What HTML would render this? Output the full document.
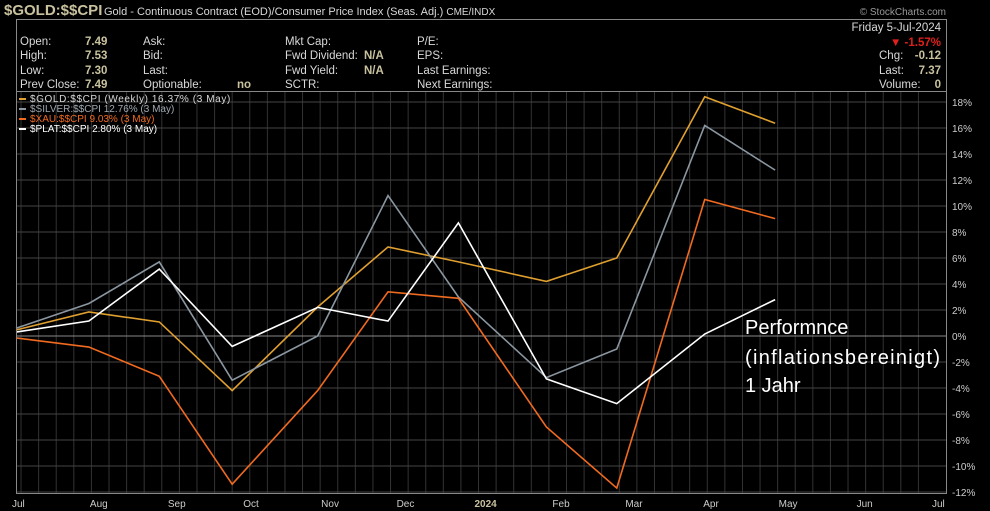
<!DOCTYPE html>
<html><head><meta charset="utf-8"><style>
html,body{margin:0;padding:0;background:#000;width:990px;height:511px;overflow:hidden}
svg{display:block;font-family:"Liberation Sans",sans-serif}
</style></head><body>
<svg id="c" width="990" height="511">
<text x="4" y="15" font-size="15" font-weight="bold" fill="#c9c29e">$GOLD:$$CPI</text>
<text x="104" y="15" font-size="11" fill="#d8d8d8">Gold - Continuous Contract (EOD)/Consumer Price Index (Seas. Adj.) <tspan font-size="10">CME/INDX</tspan></text>
<text x="946" y="15" font-size="10" fill="#999" text-anchor="end">© StockCharts.com</text>
<rect x="16.5" y="19.5" width="930" height="72" fill="none" stroke="#888"/>
<g font-size="11.5" fill="#d8d8d8">
<text x="20" y="45">Open:</text><text x="20" y="59">High:</text><text x="20" y="74">Low:</text><text x="20" y="88">Prev Close:</text>
<g font-weight="bold" fill="#c9c29e"><text x="85" y="45">7.49</text><text x="85" y="59">7.53</text><text x="85" y="74">7.30</text><text x="85" y="88">7.49</text></g>
<text x="143" y="45">Ask:</text><text x="143" y="59">Bid:</text><text x="143" y="74">Last:</text><text x="143" y="88">Optionable:</text>
<text x="237" y="88" font-weight="bold" fill="#c9c29e">no</text>
<text x="285" y="45">Mkt Cap:</text><text x="285" y="59">Fwd Dividend:</text><text x="285" y="74">Fwd Yield:</text><text x="285" y="88">SCTR:</text>
<g font-weight="bold" fill="#c9c29e"><text x="364" y="59">N/A</text><text x="364" y="74">N/A</text></g>
<text x="417" y="45">P/E:</text><text x="417" y="59">EPS:</text><text x="417" y="74">Last Earnings:</text><text x="417" y="88">Next Earnings:</text>
<text x="941" y="31" text-anchor="end">Friday  5-Jul-2024</text>
<text x="941" y="46" text-anchor="end" font-weight="bold" fill="#e0201c">▼ -1.57%</text>
<text x="879" y="59">Chg:</text><text x="879" y="74">Last:</text><text x="879" y="88">Volume:</text>
<g font-weight="bold" fill="#c9c29e" text-anchor="end"><text x="941" y="59">-0.12</text><text x="941" y="74">7.37</text><text x="941" y="88">0</text></g>
</g>
<g id="grid"></g><g id="series"></g>
<rect x="16.5" y="91.5" width="930" height="402" fill="none" stroke="#888"/>
<g font-size="10">
<rect x="19" y="98" width="7" height="2" fill="#e0a030"/><text x="30" y="102" fill="#d8d8d8" letter-spacing="0.6">$GOLD:$$CPI (Weekly) 16.37% (3 May)</text>
<rect x="19" y="108" width="7" height="2" fill="#8a96a0"/><text x="30" y="112" fill="#a0a8b0">$SILVER:$$CPI 12.76% (3 May)</text>
<rect x="19" y="118" width="7" height="2" fill="#f06a20"/><text x="30" y="122" fill="#f06a20">$XAU:$$CPI 9.03% (3 May)</text>
<rect x="19" y="128" width="7" height="2" fill="#fff"/><text x="30" y="132" fill="#fff">$PLAT:$$CPI 2.80% (3 May)</text>
</g>
<g font-size="20" fill="#fff">
<text x="745" y="334">Performnce</text><text x="745" y="364" textLength="195">(inflationsbereinigt)</text><text x="745" y="392">1 Jahr</text>
</g>
</svg>
<script>
const days=[0,29,57,86,120,148,176,211,239,274,302];
const gold=[0.46,1.85,1.08,-4.2,2.23,6.85,5.7,4.2,6.0,18.4,16.37];
const silver=[0.6,2.5,5.7,-3.4,0,10.8,3.0,-3.2,-1.0,16.2,12.76];
const xau=[-0.15,-0.85,-3.1,-11.4,-4.2,3.4,2.9,-7.0,-11.7,10.5,9.03];
const plat=[0.3,1.15,5.15,-0.8,2.2,1.15,8.7,-3.3,-5.2,0.15,2.8];
const yTicks=[18,16,14,12,10,8,6,4,2,0,-2,-4,-6,-8,-10,-12];
const months=["Jul","Aug","Sep","Oct","Nov","Dec","2024","Feb","Mar","Apr","May","Jun","Jul"];
const monthDays=[0,31,62,92,123,153,184,215,244,275,305,336,366];
const NS="http://www.w3.org/2000/svg";
const xs=d=>16+d*(920/366);
const ys=v=>336-v*13;
const grid=document.getElementById('grid'),ser=document.getElementById('series'),svg=document.getElementById('c');
function mk(t,a,p){const e=document.createElementNS(NS,t);for(const k in a)e.setAttribute(k,a[k]);p.appendChild(e);return e;}
for(let d=2;d<366;d+=7){const l=mk('line',{x1:xs(d),x2:xs(d),y1:92,y2:493,stroke:'#333','stroke-width':1},grid);

}
yTicks.forEach(v=>{const l=mk('line',{x1:16,x2:947,y1:ys(v),y2:ys(v),stroke:v===0?'#888':'#444','stroke-width':1},grid);


const t=mk('text',{x:952,y:ys(v)+4,'font-size':10,fill:'#ccc'},svg);t.textContent=v+'%';

});
months.forEach((m,i)=>{const t=mk('text',{x:xs(monthDays[i])-4,y:507,'font-size':10,fill:m==='2024'?'#c9c29e':'#ccc','font-weight':m==='2024'?'bold':'normal'},svg);t.textContent=m;

});
[[gold,'#e0a030','gold-line'],[silver,'#8a96a0','silver-line'],[xau,'#f06a20','xau-line'],[plat,'#ffffff','plat-line']].forEach(([s,c,n])=>{
const p=mk('polyline',{points:s.map((v,i)=>xs(days[i])+','+ys(v)).join(' '),fill:'none',stroke:c,'stroke-width':1.6},ser);

});
</script>
</body></html>
